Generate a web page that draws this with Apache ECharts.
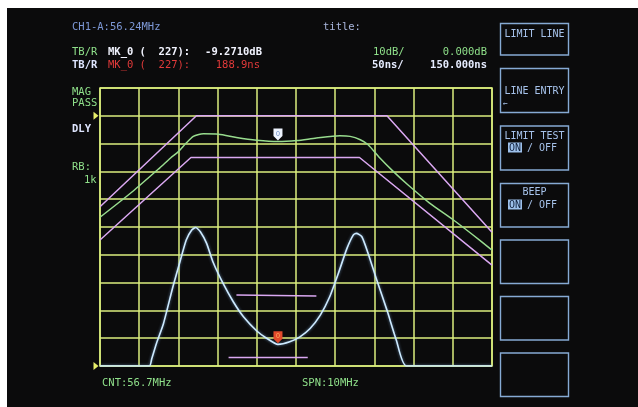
<!DOCTYPE html>
<html><head><meta charset="utf-8">
<script src="https://cdn.jsdelivr.net/npm/echarts@6/dist/echarts.min.js"></script>
<style>
html,body{margin:0;padding:0;background:#fff;}
#wrap{position:relative;width:638px;height:407px;background:#fff;overflow:hidden}
#screen{position:absolute;left:7px;top:8px;right:0;bottom:0;background:#0b0b0c}
#chart{position:absolute;left:0;top:0;width:638px;height:407px}
</style></head><body>
<div id="wrap"><div id="screen"></div><div id="chart"></div></div>
<script>
// 501-point sweep: index 0..500 over 51.7 – 61.7 MHz (CNT 56.7 MHz, SPN 10 MHz)
const magTrace = [[0,-36.5],[40,-27.6],[76,-18.8],[90,-15.2],[100,-12.9],[110,-9.8],[119,-7.4],[126,-6.7],[132,-6.5],[151,-6.6],[174,-7.8],[200,-8.8],[227,-9.271],[251,-8.9],[276,-8.0],[306,-7.2],[319,-7.4],[332,-8.6],[342,-10.4],[357,-15.2],[374,-20.0],[393,-24.9],[420,-31.3],[450,-37.3],[475,-42.7],[500,-48.3]];
const magUpperLimit = [[0,-32.7],[123,0],[366,0],[500,-41.9]];
const magLowerLimit = [[0,-44.7],[116,-15],[331,-15],[500,-53.7]];
const dlyTrace = [[0,150],[63,150],[66,163],[72,190.5],[81,226.5],[93,292.5],[102,337.5],[110,376.5],[117,394.5],[122,399],[128,391.5],[136,370.5],[144,337.5],[157,298.5],[170,265.5],[183,238.5],[200,213],[213,199.5],[227,188.9],[242,193.5],[255,202.5],[268,217.5],[281,241.5],[293,274.5],[304,316.5],[315,361.5],[323,385.5],[327,388.5],[334,382.5],[342,352.5],[353,304.5],[366,250.5],[378,196.5],[391,150],[500,150]];
const dlyUpperLimit = [[174,277.5],[276,276]];
const dlyLowerLimit = [[164,165.5],[265,165.5]];
const markerIndex = 227;
const markerMag = -9.271;
const markerDly = 188.9;

const GRID = '#dcef7e';
const MONO = '"DejaVu Sans Mono", "Liberation Mono", monospace';
const fnt = (s, w) => (w || 'normal') + ' ' + s + 'px ' + MONO;
const txt = (text, x, y, fill, align, size, weight) => ({
  type: 'text', x: x, y: y, z: 100,
  style: { text: text, fill: fill, font: fnt(size || 10.5, weight), textAlign: align || 'left', textVerticalAlign: 'middle' }
});
const box = (y, h) => ({ type: 'rect', z: 100, shape: { x: 500.5, y: y, width: 68, height: h }, style: { fill: 'none', stroke: '#86aad4', lineWidth: 1.4 } });

const markerPath = 'path://M0,0L10,0L10,8L5,13L0,8Z';
const triPath = 'path://M0,0L10,6L0,12Z';

const chart = echarts.init(document.getElementById('chart'));
chart.setOption({
  backgroundColor: 'transparent',
  animation: false,
  grid: { left: 100, top: 88, width: 392, height: 278, show: true, borderColor: GRID, borderWidth: 1.5 },
  xAxis: { type: 'value', min: 0, max: 500, interval: 50,
    axisLine: { show: false }, axisTick: { show: false }, axisLabel: { show: false },
    splitLine: { show: true, lineStyle: { color: GRID, width: 1.5 } } },
  yAxis: [
    { type: 'value', min: -90, max: 10, interval: 10,
      axisLine: { show: false }, axisTick: { show: false }, axisLabel: { show: false },
      splitLine: { show: true, lineStyle: { color: GRID, width: 1.5 } } },
    { type: 'value', min: 150, max: 650, interval: 50,
      axisLine: { show: false }, axisTick: { show: false }, axisLabel: { show: false },
      splitLine: { show: false } }
  ],
  series: [
    { type: 'line', name: 'MAG upper limit', yAxisIndex: 0, data: magUpperLimit, showSymbol: false, z: 3,
      lineStyle: { color: '#dba8f2', width: 1.5 } },
    { type: 'line', name: 'MAG lower limit', yAxisIndex: 0, data: magLowerLimit, showSymbol: false, z: 3,
      lineStyle: { color: '#dba8f2', width: 1.5 } },
    { type: 'line', name: 'MAG', yAxisIndex: 0, data: magTrace, showSymbol: false, smooth: 0.25, z: 4,
      lineStyle: { color: '#98dc8e', width: 1.5 },
      markPoint: { silent: true, data: [
        { coord: [markerIndex, markerMag], symbol: markerPath, symbolSize: [9, 12], symbolOffset: [0, -7],
          itemStyle: { color: '#eef4ff' }, label: { show: true, formatter: '0', color: '#6b8cc4', fontSize: 7, offset: [0, -1] } },
        { coord: [0, 0], symbol: triPath, symbolSize: [5, 8], symbolOffset: [-4, 0],
          itemStyle: { color: '#e6ee6a' }, label: { show: false } }
      ] } },
    { type: 'line', name: 'DLY upper limit', yAxisIndex: 1, data: dlyUpperLimit, showSymbol: false, z: 3,
      lineStyle: { color: '#dba8f2', width: 1.5 } },
    { type: 'line', name: 'DLY lower limit', yAxisIndex: 1, data: dlyLowerLimit, showSymbol: false, z: 3,
      lineStyle: { color: '#dba8f2', width: 1.5 } },
    { type: 'line', name: 'DLY', yAxisIndex: 1, data: dlyTrace, showSymbol: false, smooth: 0.2, z: 4,
      lineStyle: { color: '#cdeaff', width: 1.6, shadowColor: 'rgba(150,200,255,0.6)', shadowBlur: 3 },
      markPoint: { silent: true, data: [
        { coord: [markerIndex, markerDly], symbol: markerPath, symbolSize: [9, 12], symbolOffset: [0, -7],
          itemStyle: { color: '#e24a2c' }, label: { show: true, formatter: '0', color: '#ffb060', fontSize: 7, offset: [0, -1] } },
        { coord: [0, 150], symbol: triPath, symbolSize: [5, 8], symbolOffset: [-4, 0],
          itemStyle: { color: '#e6ee6a' }, label: { show: false } }
      ] } }
  ],
  graphic: [
    txt('CH1-A:56.24MHz', 72, 27, '#7d98d6'),
    txt('title:', 323, 27, '#a9b6dc'),
    txt('TB/R', 72, 52, '#8fe08a'),
    txt('MK_0 (  227):', 108, 52, '#f2f4ff', 'left', 10.5, 'bold'),
    txt('-9.2710dB', 262, 52, '#f2f4ff', 'right', 10.5, 'bold'),
    txt('10dB/', 373, 52, '#8fe08a'),
    txt('0.000dB', 487, 52, '#8fe08a', 'right'),
    txt('TB/R', 72, 65, '#dfe6ff', 'left', 10.5, 'bold'),
    txt('MK_0 (  227):', 108, 65, '#e23a3a'),
    txt('188.9ns', 260, 65, '#e23a3a', 'right'),
    txt('50ns/', 372, 65, '#e6ecff', 'left', 10.5, 'bold'),
    txt('150.000ns', 487, 65, '#e6ecff', 'right', 10.5, 'bold'),
    txt('MAG', 72, 92, '#8fe08a'),
    txt('PASS', 72, 103, '#8fe08a'),
    txt('DLY', 72, 129, '#dfe6ff', 'left', 10.5, 'bold'),
    txt('RB:', 72, 167, '#8fe08a'),
    txt('1k', 84, 180, '#8fe08a'),
    txt('CNT:56.7MHz', 102, 383, '#8fe08a'),
    txt('SPN:10MHz', 302, 383, '#8fe08a'),
    box(23.5, 31.5), box(68.5, 44), box(126, 44), box(183.5, 43.5), box(240, 43.5), box(296.5, 43.5), box(353, 43.5),
    txt('LIMIT LINE', 534.5, 34, '#a6c2ea', 'center', 10),
    txt('LINE ENTRY', 534.5, 91, '#a6c2ea', 'center', 10),
    txt('←', 503, 104, '#a6c2ea', 'left', 8),
    txt('LIMIT TEST', 534.5, 136, '#a6c2ea', 'center', 10),
    { type: 'rect', z: 100, shape: { x: 508, y: 142.5, width: 14, height: 10 }, style: { fill: '#9dc0ea' } },
    txt('ON', 515, 148, '#12233f', 'center', 10),
    txt('/ OFF', 527, 148, '#a6c2ea', 'left', 10),
    txt('BEEP', 534.5, 192, '#a6c2ea', 'center', 10),
    { type: 'rect', z: 100, shape: { x: 508, y: 199.5, width: 14, height: 10 }, style: { fill: '#9dc0ea' } },
    txt('ON', 515, 205, '#12233f', 'center', 10),
    txt('/ OFF', 527, 205, '#a6c2ea', 'left', 10)
  ]
});
</script></body></html>
